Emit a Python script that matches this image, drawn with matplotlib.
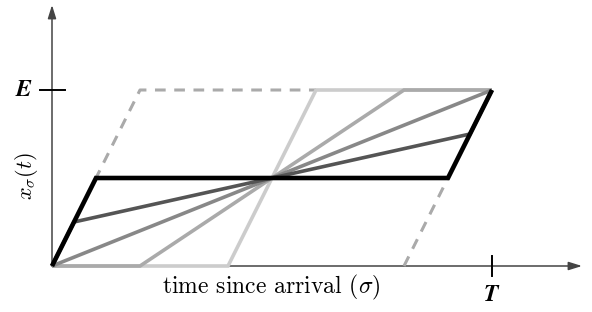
import matplotlib
matplotlib.use('Agg')
import matplotlib.pyplot as plt

plt.rcParams['mathtext.fontset'] = 'cm'
plt.rcParams['font.family'] = ['cmr10', 'DejaVu Serif']
plt.rcParams['axes.unicode_minus'] = False

# each path: x (fraction of T) and y (fraction of E)
paths_x = [
    [0, 0.4, 0.6, 1],
    [0, 0.2, 0.8, 1],
    [0, 1],
    [0, 0.05, 0.95, 1],
    [0, 0.1, 0.9, 1],
]
paths_y = [
    [0, 0, 1, 1],
    [0, 0, 1, 1],
    [0, 1],
    [0, 0.25, 0.75, 1],
    [0, 0.5, 0.5, 1],
]
colors = ['#cccccc', '#aaaaaa', '#888888', '#555555', '#000000']
widths = [2.6, 2.6, 2.6, 2.6, 3.3]

# limiting (dashed) parallelogram pieces
dash_top_x = [0, 0.2, 0.6]
dash_top_y = [0, 1, 1]
dash_bot_x = [0.8, 0.9]
dash_bot_y = [0, 0.5]

fig = plt.figure(figsize=(5.92, 3.12), dpi=100)
ax = fig.add_axes([0, 0, 1, 1])
ax.set_xlim(-52 / 440, 540 / 440)
ax.set_ylim(-46 / 176, 266 / 176)
ax.axis('off')

axc = '#444444'
ax.annotate('', xy=(530 / 440, 0), xytext=(0, 0),
            arrowprops=dict(arrowstyle='-|>,head_length=0.8,head_width=0.25', color=axc, lw=1.1,
                            shrinkA=0, shrinkB=0), zorder=1)
ax.annotate('', xy=(0, 261 / 176), xytext=(0, 0),
            arrowprops=dict(arrowstyle='-|>,head_length=0.8,head_width=0.25', color=axc, lw=1.1,
                            shrinkA=0, shrinkB=0), zorder=1)

ax.plot(dash_top_x, dash_top_y, color='#aaaaaa', lw=2.2, ls=(0, (3.5, 2.8)), zorder=2)
ax.plot(dash_bot_x, dash_bot_y, color='#aaaaaa', lw=2.2, ls=(0, (3.5, 2.8)), zorder=2)

for px, py, c, w in zip(paths_x, paths_y, colors, widths):
    ax.plot(px, py, color=c, lw=w, solid_joinstyle='miter', solid_capstyle='butt', zorder=3)

# ticks
ax.plot([-12 / 440, 13 / 440], [1, 1], color='black', lw=1.4, zorder=4)
ax.plot([1, 1], [-10 / 176, 10 / 176], color='black', lw=1.4, zorder=4)

ax.text(-28 / 440, 1, r'$\boldsymbol{E}$', fontsize=17, ha='center', va='center')
ax.text(1, -29 / 176, r'$\boldsymbol{T}$', fontsize=17, ha='center', va='center')
ax.text(0.499, -21 / 176, r'time since arrival ($\sigma$)', fontsize=17, ha='center', va='center')
ax.text(-25 / 440, 0.51, r'$x_\sigma(t)$', fontsize=16, ha='center', va='center', rotation=90)

fig.savefig('out.png', dpi=100)
